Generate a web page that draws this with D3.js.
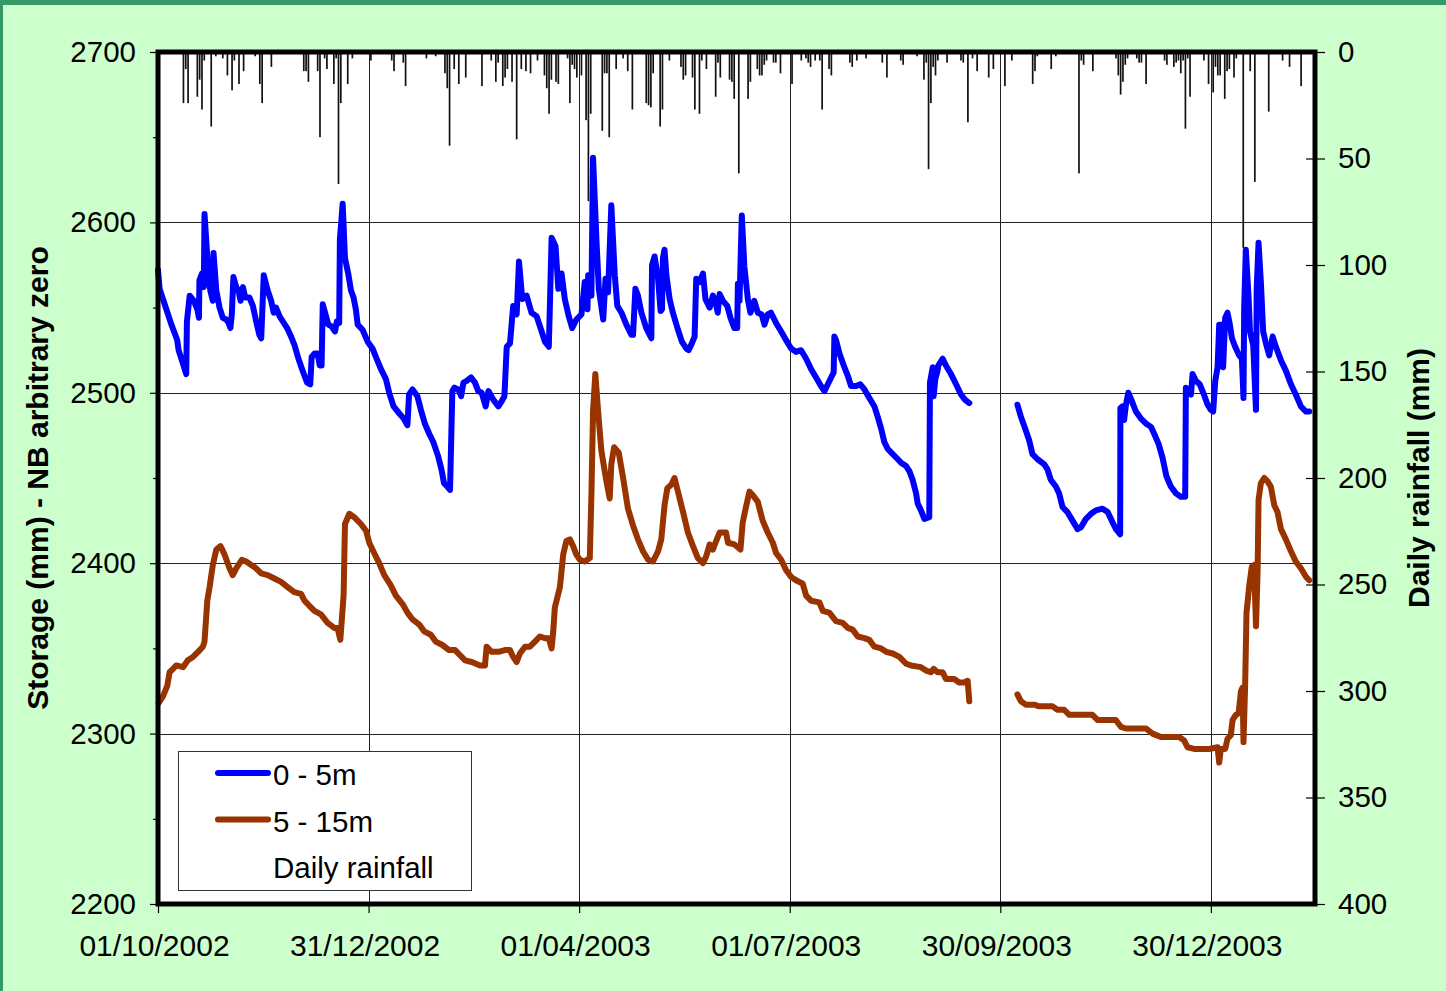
<!DOCTYPE html>
<html>
<head>
<meta charset="utf-8">
<script src="https://cdn.jsdelivr.net/npm/d3@7"></script>
<style>
  body { margin: 0; background: #ccffcc; }
  svg { display: block; font-family: 'Liberation Sans', Arial, sans-serif; }
</style>
</head>
<body>
<div class="chart"></div>
<script>
// day offsets are counted from 01/10/2002
const startDate = '01/10/2002'
const spanDays = 500

const xTicks = ['01/10/2002', '31/12/2002', '01/04/2003', '01/07/2003', '30/09/2003', '30/12/2003']
const leftTicks = [2200, 2300, 2400, 2500, 2600, 2700]
const leftMinorTicks = [2250, 2350, 2450, 2550, 2650]
const rightTicks = [0, 50, 100, 150, 200, 250, 300, 350, 400]
const legendLabels = ['0 - 5m', '5 - 15m', 'Daily rainfall']

// storage 0 - 5m  [day, mm]; null marks the gap in the record
const shallow = [
  [0,2572],[0.7,2561],[3.6,2549],[5.8,2540],[8.3,2531],[8.9,2525],[10.8,2517],[12.2,2511],[12.5,2542],[13.7,2557],
  [15.5,2554],[17,2549],[17.7,2544],[17.9,2566],[19,2570],[19.8,2562],[20.1,2605],[21.6,2574],[22.6,2560],[23.7,2554],
  [24,2582],[25.2,2560],[26.6,2550],[28,2544],[29.5,2543],[30.5,2541],[31.3,2538],[31.9,2546],[32.6,2568],[33.8,2562],
  [34.8,2560],[35.7,2554],[36.7,2562],[37.7,2556],[39.5,2556],[41,2551],[42.4,2542],[43.8,2534],[44.6,2532],[45.7,2569],
  [47.4,2560],[48.9,2554],[50,2547],[51,2550],[52.5,2545],[53.9,2542],[55.8,2538],[57.5,2533],[59,2528],[60.7,2520],
  [62.5,2513],[64.4,2506],[65.8,2505],[66.4,2521],[67.6,2523],[69,2523],[69.9,2516],[70.7,2516],[71.2,2552],[72.6,2545],
  [73.6,2540],[75,2539],[76.5,2536],[77.3,2542],[78.3,2541],[78.6,2590],[79.8,2611],[80.8,2579],[82.2,2570],[83.4,2560],
  [84.5,2556],[85.5,2549],[86.3,2540],[88.4,2537],[90.6,2530],[92.7,2526],[94.2,2521],[96.3,2514],[98.5,2508],[99.9,2500],
  [101.8,2492],[104.2,2488],[106.1,2485],[107.8,2481],[108.5,2499],[110,2502],[112.1,2498],[113.6,2490],[115.3,2482],[117.2,2476],
  [119,2471],[121,2463],[122.5,2455],[123.6,2447],[125,2445],[126.2,2443],[127.2,2501],[128.1,2503],[129.8,2502],[131,2498],
  [132,2506],[133.4,2507],[135.3,2509],[137,2506],[138.4,2501],[139.9,2500],[141.6,2492],[142.8,2501],[144.9,2496],[147.1,2492],
  [148.5,2495],[149.7,2498],[150.7,2527],[152.1,2529],[153.5,2551],[155,2546],[156,2577],[157.4,2555],[159.3,2557],[161.4,2547],
  [163.6,2545],[165.8,2536],[167.2,2530],[168.9,2527],[170.1,2591],[171.8,2586],[173,2561],[174.4,2570],[175.8,2555],[177.5,2545],
  [179,2538],[180.8,2543],[183,2546],[184.4,2565],[185.6,2549],[185.9,2569],[187.3,2557],[188,2638],[189.5,2589],[190.5,2561],
  [192.4,2543],[193.4,2567],[194.5,2559],[195.9,2610],[197.4,2569],[198.5,2551],[200.3,2547],[202.4,2540],[204.6,2534],[205.3,2534],
  [206.3,2561],[207.4,2557],[208.9,2547],[211,2538],[213.2,2532],[213.5,2575],[214.6,2580],[216.1,2567],[217.2,2548],[217.8,2549],
  [218.2,2579],[218.9,2584],[219.7,2569],[221.1,2555],[222.5,2547],[224.7,2537],[226.4,2530],[228.3,2526],[229.3,2525],[230.7,2529],
  [231.9,2533],[232.6,2567],[234,2565],[235.5,2570],[236.6,2555],[238.4,2550],[239.8,2557],[240.8,2554],[241.9,2547],[242.7,2558],
  [244.1,2554],[246,2551],[247.4,2544],[249.1,2538],[250.3,2538],[250.6,2564],[251.3,2554],[252.3,2604],[253.4,2574],[254.9,2555],
  [256,2547],[257.7,2554],[259.2,2547],[260.9,2546],[262.1,2540],[263.5,2546],[264.9,2547],[267.1,2541],[269.3,2536],[271.4,2531],
  [273.6,2526],[275.7,2524],[277.9,2525],[280.1,2520],[282.2,2514],[284.4,2509],[286.5,2504],[288,2501],[289.1,2504],[290.9,2509],
  [292,2512],[292.3,2533],[293,2531],[294.5,2523],[296.6,2515],[298.1,2510],[299.5,2504],[301.7,2504],[303.5,2505],[305.3,2502],
  [307.4,2497],[309.6,2492],[311,2486],[312.5,2479],[313.9,2471],[315.4,2467],[316.8,2465],[319,2462],[321.1,2459],[323.3,2457],
  [324.7,2454],[326.1,2449],[327.6,2441],[328.3,2435],[329.7,2431],[331.2,2426],[333.3,2427],[333.6,2506],[334.8,2515],[335.2,2498],
  [335.9,2508],[336.9,2513],[337.2,2516],[339.1,2520],[340.5,2516],[342.7,2511],[344.9,2505],[347,2499],[348.7,2496],[350.6,2494],
  [360,null],
  [371.4,2493],[372.9,2486],[375,2478],[376.5,2472],[377.9,2464],[380.1,2461],[383,2458],[384.4,2455],[385.8,2449],[388,2445],
  [389.4,2441],[390.9,2433],[393,2430],[395.2,2425],[397.4,2420],[398.8,2421],[401,2426],[403.2,2429],[405.3,2431],[408.2,2432],
  [410.4,2430],[412.5,2424],[414,2420],[415.8,2417],[415.9,2491],[416.8,2492],[417.5,2484],[418.3,2493],[419.3,2500],[420.9,2495],
  [422.6,2489],[424.7,2485],[426.9,2482],[429.1,2480],[430.5,2476],[432.4,2470],[434.1,2462],[435.8,2451],[437.7,2445],[439.9,2441],
  [442,2439],[443.9,2439],[444.2,2503],[445.3,2501],[446.4,2499],[447.1,2511],[448.5,2507],[450.2,2505],[451.7,2500],[453.6,2493],
  [455,2490],[456,2489],[456.9,2507],[457.9,2515],[458.6,2540],[459.8,2540],[460.3,2515],[461.2,2544],[462.2,2547],[463.2,2540],
  [464.1,2532],[465.5,2527],[467.2,2522],[468.4,2520],[469.1,2497],[469.4,2550],[470.1,2584],[471.3,2556],[471.9,2536],[473.3,2528],
  [474.5,2490],[474.8,2561],[475.6,2588],[476.6,2565],[477.6,2536],[478.8,2529],[480.2,2522],[481.7,2533],[483.1,2527],[485.3,2519],
  [487.4,2513],[489.6,2505],[491.7,2499],[493.9,2492],[496.1,2489],[497.5,2489]
]

// storage 5 - 15m  [day, mm]
const deep = [
  [0.3,2318],[2.2,2322],[4,2328],[5,2336],[6.5,2338],[7.9,2340],[10.8,2339],[12.9,2343],[15.1,2345],[17.3,2348],
  [19.4,2351],[20.1,2354],[21.3,2378],[22.3,2386],[23.7,2399],[25.2,2408],[27,2410],[28.8,2405],[30.9,2397],[32.3,2393],
  [33.8,2397],[36.2,2402],[38.1,2401],[40.3,2399],[42.4,2397],[44.6,2394],[47.4,2393],[50.3,2391],[53.2,2389],[56,2386],
  [58.9,2383],[61.8,2382],[63.3,2378],[65.4,2375],[67.6,2372],[70.4,2370],[73.3,2365],[76.2,2362],[77.6,2362],[78.8,2355],
  [80.2,2381],[80.8,2423],[82.7,2429],[84.8,2427],[87.7,2423],[89.9,2419],[91.3,2412],[93.4,2406],[95.6,2400],[97.8,2393],
  [100.6,2387],[102.8,2381],[105.7,2376],[107.8,2371],[110,2367],[112.9,2364],[115,2360],[117.9,2358],[120,2354],[122.9,2352],
  [125.8,2349],[128.4,2349],[130.5,2346],[132.7,2343],[135.6,2342],[139.2,2340],[141.3,2340],[142,2351],[144.2,2348],[147.1,2348],
  [149.9,2349],[152.1,2349],[153.5,2345],[155,2342],[156.4,2347],[158.6,2351],[160.7,2351],[162.9,2354],[165,2357],[167.2,2356],
  [168.9,2356],[170.1,2350],[170.8,2360],[171.5,2374],[173.7,2386],[175.1,2405],[176.5,2413],[178,2414],[179.4,2410],[180.8,2405],
  [182.3,2402],[184.4,2401],[186.6,2403],[187.3,2440],[188,2489],[189,2511],[190.2,2489],[191.6,2466],[193.8,2448],[195.2,2438],
  [195.9,2458],[197.1,2468],[199.1,2465],[201,2450],[203.1,2432],[205.3,2422],[207.4,2414],[209.6,2407],[211.8,2402],[213.9,2401],
  [216.1,2407],[217.5,2414],[218.9,2434],[220.1,2444],[221.8,2446],[223.2,2450],[224.7,2442],[226.9,2430],[229,2418],[231.2,2410],
  [233.3,2403],[235.5,2400],[236.9,2404],[238.4,2411],[239.8,2408],[241.2,2413],[242.7,2418],[245.5,2418],[246.3,2412],[249.1,2411],
  [251.7,2408],[252.7,2424],[254.1,2433],[255.6,2442],[257,2440],[259.2,2436],[261.3,2425],[263.5,2418],[265.7,2412],[267.1,2406],
  [269.3,2402],[271.4,2396],[273.6,2392],[275.7,2390],[278.6,2388],[280.1,2381],[282.2,2378],[285.8,2377],[287.3,2372],[290.1,2371],
  [293,2366],[295.9,2365],[298.1,2362],[300.2,2361],[302.4,2357],[305.3,2356],[307.4,2355],[309.6,2351],[312.5,2350],[314.7,2348],
  [317.5,2347],[320.4,2345],[323.3,2341],[325.4,2340],[329.7,2339],[331.9,2337],[334,2336],[335.2,2338],[336.9,2336],[339.1,2336],
  [340.5,2332],[344.1,2332],[346.2,2330],[348.4,2330],[349.9,2331],[350.6,2319],
  [360,null],
  [371.4,2323],[372.9,2319],[375,2317],[378.6,2317],[380.8,2316],[386.6,2316],[388.7,2314],[391.6,2314],[393.8,2311],[403.8,2311],
  [406,2308],[413.9,2308],[416.1,2304],[418.3,2303],[426.9,2303],[429.8,2300],[433.4,2298],[441.3,2298],[443.4,2296],[444.9,2292],
  [447.8,2291],[454.3,2291],[457.9,2292],[458.6,2283],[459.3,2291],[461.2,2291],[462.2,2297],[463.6,2299],[464.4,2308],[465.8,2311],
  [467,2312],[468,2325],[468.7,2327],[469.1,2295],[469.8,2328],[470.4,2371],[471.6,2387],[472.7,2398],[473.7,2399],[474.5,2363],
  [475.2,2396],[475.6,2437],[476.6,2447],[478.1,2450],[479.5,2448],[480.9,2445],[482.4,2434],[483.8,2430],[485.3,2420],[487.4,2414],
  [489.6,2407],[491.7,2401],[493.9,2397],[496.1,2392],[497.5,2390]
]

// daily rainfall [day, mm]
const rainfall = [
  [11,24],[12,8],[13,24],[17,21],[18,13],[19,27],[20,4],[23,35],[25,2],[28,3],[30,11],[32,18],[33,4],[35,15],[37,9],
  [42,2],[44,15],[45,24],[49,7],[63,9],[64,9],[65,14],[69,9],[70,40],[72,3],[73,8],[76,15],[77,3],[78,62],[79,24],
  [82,15],[84,3],[92,4],[101,4],[102,9],[106,5],[107,16],[116,3],[120,2],[124,10],[125,17],[126,44],[128,8],[130,15],
  [133,12],[140,16],[144,4],[146,14],[147,5],[149,16],[150,12],[151,8],[153,14],[155,41],[157,8],[159,9],[161,10],[164,4],
  [167,11],[168,17],[169,29],[170,13],[172,14],[173,15],[177,3],[178,24],[179,6],[180,8],[181,12],[183,11],[185,32],[186,70],
  [187,29],[192,37],[193,10],[194,10],[195,40],[198,8],[201,3],[203,9],[205,27],[211,24],[212,25],[213,26],[214,10],[217,35],
  [218,27],[221,4],[226,7],[227,13],[228,11],[231,12],[232,27],[234,29],[235,4],[237,8],[241,21],[242,5],[243,12],[247,13],
  [248,14],[249,22],[251,57],[255,22],[256,14],[259,8],[260,11],[261,11],[262,6],[263,4],[266,5],[267,5],[269,10],[274,15],
  [278,4],[280,3],[281,5],[282,7],[284,4],[286,4],[287,27],[290,8],[291,11],[299,5],[300,7],[302,4],[306,3],[313,5],
  [315,12],[321,4],[322,6],[328,2],[331,13],[332,5],[333,55],[334,24],[335,7],[336,11],[337,4],[341,5],[347,4],[348,5],
  [350,33],[352,3],[354,9],[359,12],[361,8],[366,16],[369,4],[378,15],[379,9],[380,2],[386,8],[388,2],[398,57],[399,4],
  [400,6],[404,9],[414,3],[415,11],[416,20],[417,14],[418,6],[419,3],[423,3],[424,5],[425,5],[427,15],[435,4],[436,6],
  [439,7],[440,5],[441,4],[442,10],[443,4],[444,36],[445,3],[446,21],[452,4],[454,15],[456,19],[457,7],[458,11],[459,11],
  [461,22],[462,9],[463,8],[465,12],[466,3],[469,92],[472,9],[474,61],[480,28],[486,4],[489,7],[494,16]
]

const width = 1446
const height = 991
const plot = { left: 158, right: 1315, top: 52, bottom: 904 }
const blue = '#0000ff'
const brown = '#993300'
const lineWidth = 6

const parseDate = d3.utcParse('%d/%m/%Y')
const start = parseDate(startDate)
const toDate = (day) => new Date(start.getTime() + day * 864e5)

const x = d3
  .scaleUtc()
  .domain([start, toDate(spanDays)])
  .range([plot.left, plot.right])
const y = d3.scaleLinear().domain([2200, 2700]).range([plot.bottom, plot.top])
const yRain = d3.scaleLinear().domain([0, 400]).range([plot.top, plot.bottom])

const svg = d3
  .select('.chart')
  .append('svg')
  .attr('width', width)
  .attr('height', height)

svg.append('rect').attr('width', width).attr('height', height).attr('fill', '#ccffcc')
svg.append('rect').attr('width', width).attr('height', 5).attr('fill', '#339966')
svg.append('rect').attr('width', 3).attr('height', height).attr('fill', '#339966')

svg
  .append('rect')
  .attr('x', plot.left)
  .attr('y', plot.top)
  .attr('width', plot.right - plot.left)
  .attr('height', plot.bottom - plot.top)
  .attr('fill', '#fff')

// grid
const grid = svg.append('g').attr('stroke', '#222').attr('stroke-width', 1)
grid
  .selectAll('.hgrid')
  .data(leftTicks.slice(1, -1))
  .enter()
  .append('line')
  .attr('x1', plot.left)
  .attr('x2', plot.right)
  .attr('y1', (d) => Math.round(y(d)) + 0.5)
  .attr('y2', (d) => Math.round(y(d)) + 0.5)
grid
  .selectAll('.vgrid')
  .data(xTicks.slice(1).map(parseDate))
  .enter()
  .append('line')
  .attr('x1', (d) => Math.round(x(d)) + 0.5)
  .attr('x2', (d) => Math.round(x(d)) + 0.5)
  .attr('y1', plot.top)
  .attr('y2', plot.bottom)

// rainfall bars hanging from the top
svg
  .append('g')
  .selectAll('rect')
  .data(rainfall)
  .enter()
  .append('rect')
  .attr('x', (d) => x(toDate(d[0])) - 0.85)
  .attr('y', plot.top)
  .attr('width', 1.7)
  .attr('height', (d) => yRain(d[1]) - plot.top)
  .attr('fill', '#111')

const line = d3
  .line()
  .defined((d) => d[1] != null)
  .x((d) => x(toDate(d[0])))
  .y((d) => y(d[1]))

svg
  .append('path')
  .datum(deep)
  .attr('d', line)
  .attr('fill', 'none')
  .attr('stroke', brown)
  .attr('stroke-width', lineWidth)
  .attr('stroke-linejoin', 'round')
  .attr('stroke-linecap', 'round')

svg
  .append('path')
  .datum(shallow)
  .attr('d', line)
  .attr('fill', 'none')
  .attr('stroke', blue)
  .attr('stroke-width', lineWidth)
  .attr('stroke-linejoin', 'round')
  .attr('stroke-linecap', 'round')

// frame
svg
  .append('rect')
  .attr('x', plot.left)
  .attr('y', plot.top)
  .attr('width', plot.right - plot.left)
  .attr('height', plot.bottom - plot.top)
  .attr('fill', 'none')
  .attr('stroke', '#000')
  .attr('stroke-width', 5)

// axes
const styleAxis = (g, size) => {
  g.select('.domain').remove()
  g.selectAll('.tick line').attr('stroke', '#000').attr('stroke-width', 1.2)
  g.selectAll('.tick text').attr('fill', '#000').style('font-size', size + 'px')
}

svg
  .append('g')
  .attr('transform', `translate(${plot.left},0)`)
  .call(d3.axisLeft(y).tickValues(leftTicks).tickSize(8).tickPadding(14).tickFormat(d3.format('d')))
  .call((g) => styleAxis(g, 29.5))

svg
  .append('g')
  .attr('transform', `translate(${plot.left},0)`)
  .call(d3.axisLeft(y).tickValues(leftMinorTicks).tickSize(5).tickFormat(''))
  .call((g) => styleAxis(g, 29))

svg
  .append('g')
  .attr('transform', `translate(${plot.right},0)`)
  .call(d3.axisRight(yRain).tickValues(rightTicks).tickSize(10).tickPadding(13))
  .call((g) => styleAxis(g, 29.5))

svg
  .append('g')
  .attr('transform', `translate(${plot.right},0)`)
  .call(d3.axisLeft(yRain).tickValues(rightTicks.slice(1, -1)).tickSize(9).tickFormat(''))
  .call((g) => styleAxis(g, 29))

svg
  .append('g')
  .attr('transform', `translate(0,${plot.bottom})`)
  .call(
    d3
      .axisBottom(x)
      .tickValues(xTicks.map(parseDate))
      .tickSize(9)
      .tickPadding(22)
      .tickFormat(d3.utcFormat('%d/%m/%Y'))
  )
  .call((g) => styleAxis(g, 30))
  .call((g) => g.selectAll('.tick text').attr('dx', -4))

// axis titles
svg
  .append('text')
  .attr('transform', `translate(48,${(plot.top + plot.bottom) / 2}) rotate(-90)`)
  .attr('text-anchor', 'middle')
  .style('font-size', '30px')
  .style('font-weight', 'bold')
  .text('Storage (mm)  - NB arbitrary zero')

svg
  .append('text')
  .attr('transform', `translate(1429,${(plot.top + plot.bottom) / 2}) rotate(-90)`)
  .attr('text-anchor', 'middle')
  .style('font-size', '30px')
  .style('font-weight', 'bold')
  .text('Daily rainfall (mm)')

// legend
const legend = svg.append('g').attr('transform', 'translate(178,751)')
legend
  .append('rect')
  .attr('x', 0.5)
  .attr('y', 0.5)
  .attr('width', 293)
  .attr('height', 139)
  .attr('fill', '#fff')
  .attr('stroke', '#333')

const legendColors = [blue, brown, null]
legendLabels.forEach((label, i) => {
  const cy = 22 + i * 46.5
  if (legendColors[i]) {
    legend
      .append('line')
      .attr('x1', 40)
      .attr('x2', 90)
      .attr('y1', cy)
      .attr('y2', cy)
      .attr('stroke', legendColors[i])
      .attr('stroke-width', lineWidth)
      .attr('stroke-linecap', 'round')
  }
  legend
    .append('text')
    .attr('x', 95)
    .attr('y', cy + 12)
    .style('font-size', '29.5px')
    .text(label)
})
</script>
</body>
</html>
